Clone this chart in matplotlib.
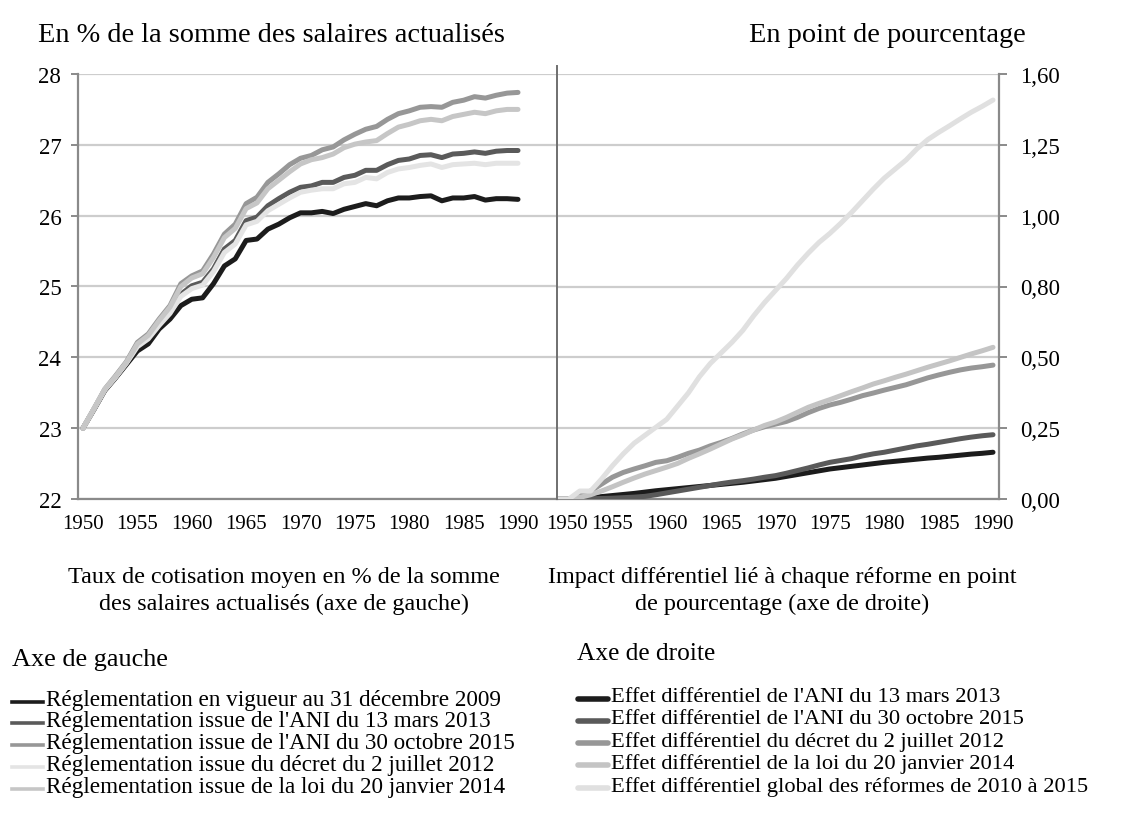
import matplotlib
matplotlib.use("Agg")
import matplotlib.pyplot as plt
from matplotlib.lines import Line2D
import matplotlib.transforms as mtrans
import numpy as np

plt.rcParams['font.family'] = ['Liberation Serif', 'DejaVu Serif']

years = list(range(1950, 1991))

# Left axis: average contribution rate (% of discounted wages)
regl_2009 = [23.00, 23.26, 23.53, 23.71, 23.90, 24.09, 24.19, 24.40, 24.54, 24.73,
             24.82, 24.84, 25.04, 25.29, 25.39, 25.65, 25.67, 25.81, 25.88, 25.97,
             26.04, 26.04, 26.06, 26.03, 26.09, 26.13, 26.17, 26.14, 26.21, 26.25,
             26.25, 26.27, 26.28, 26.21, 26.25, 26.25, 26.27, 26.22, 26.24, 26.24, 26.23]
regl_ani2013 = [23.00, 23.27, 23.54, 23.72, 23.92, 24.17, 24.28, 24.47, 24.64, 24.89,
                25.01, 25.06, 25.25, 25.53, 25.65, 25.93, 25.98, 26.14, 26.24, 26.33,
                26.40, 26.42, 26.47, 26.47, 26.54, 26.57, 26.64, 26.64, 26.72, 26.78,
                26.80, 26.85, 26.86, 26.82, 26.87, 26.88, 26.90, 26.88, 26.91, 26.92, 26.92]
regl_ani2015 = [23.00, 23.27, 23.55, 23.74, 23.94, 24.21, 24.33, 24.54, 24.73, 25.04,
                25.15, 25.22, 25.46, 25.74, 25.88, 26.17, 26.26, 26.47, 26.59, 26.72,
                26.81, 26.85, 26.93, 26.97, 27.07, 27.15, 27.22, 27.26, 27.36, 27.44,
                27.48, 27.53, 27.54, 27.53, 27.60, 27.63, 27.68, 27.66, 27.70, 27.73, 27.74]
regl_decret2012 = [23.00, 23.27, 23.54, 23.72, 23.92, 24.15, 24.26, 24.45, 24.62, 24.86,
                   24.97, 25.02, 25.21, 25.48, 25.60, 25.87, 25.92, 26.07, 26.16, 26.25,
                   26.33, 26.36, 26.38, 26.38, 26.45, 26.47, 26.54, 26.52, 26.61, 26.66,
                   26.68, 26.71, 26.73, 26.68, 26.72, 26.73, 26.74, 26.72, 26.74, 26.74, 26.74]
regl_loi2014 = [23.00, 23.27, 23.55, 23.73, 23.93, 24.19, 24.31, 24.52, 24.71, 25.00,
                25.12, 25.18, 25.41, 25.69, 25.82, 26.10, 26.18, 26.38, 26.50, 26.62,
                26.73, 26.79, 26.82, 26.87, 26.96, 27.01, 27.04, 27.06, 27.16, 27.25,
                27.29, 27.34, 27.36, 27.34, 27.40, 27.43, 27.46, 27.44, 27.48, 27.50, 27.50]

# Right axis: differential effect (percentage points)
eff_ani2013 = [0, 0, 0.002, 0.005, 0.009, 0.013, 0.017, 0.021, 0.026, 0.031,
               0.035, 0.039, 0.043, 0.047, 0.051, 0.055, 0.059, 0.063, 0.068, 0.073,
               0.078, 0.085, 0.092, 0.099, 0.106, 0.113, 0.118, 0.123, 0.128, 0.133,
               0.138, 0.142, 0.146, 0.150, 0.154, 0.157, 0.161, 0.165, 0.169, 0.172, 0.176]
eff_ani2015 = [0, 0, 0, 0.001, 0.002, 0.003, 0.005, 0.007, 0.010, 0.016,
               0.023, 0.030, 0.037, 0.044, 0.051, 0.058, 0.064, 0.069, 0.075, 0.082,
               0.088, 0.097, 0.107, 0.117, 0.128, 0.138, 0.145, 0.152, 0.162, 0.170,
               0.176, 0.184, 0.192, 0.200, 0.206, 0.213, 0.220, 0.227, 0.233, 0.238, 0.242]
eff_decret2012 = [0, 0, 0.013, 0.030, 0.056, 0.082, 0.100, 0.113, 0.125, 0.138,
                  0.144, 0.157, 0.172, 0.184, 0.200, 0.213, 0.228, 0.245, 0.260, 0.272,
                  0.282, 0.292, 0.307, 0.325, 0.341, 0.354, 0.364, 0.376, 0.389, 0.399,
                  0.410, 0.420, 0.430, 0.443, 0.456, 0.467, 0.477, 0.486, 0.493, 0.498, 0.504]
eff_loi2014 = [0, 0, 0.006, 0.016, 0.030, 0.046, 0.063, 0.079, 0.094, 0.107,
               0.120, 0.134, 0.153, 0.170, 0.188, 0.207, 0.226, 0.242, 0.260, 0.277,
               0.290, 0.307, 0.326, 0.345, 0.360, 0.374, 0.389, 0.404, 0.418, 0.433,
               0.445, 0.458, 0.470, 0.483, 0.496, 0.508, 0.520, 0.533, 0.546, 0.558, 0.571]
eff_global = [0, 0, 0.030, 0.030, 0.075, 0.125, 0.170, 0.210, 0.240, 0.270,
              0.300, 0.350, 0.400, 0.460, 0.510, 0.550, 0.590, 0.635, 0.690, 0.740,
              0.785, 0.830, 0.880, 0.925, 0.966, 1.000, 1.038, 1.079, 1.123, 1.167,
              1.208, 1.242, 1.276, 1.318, 1.353, 1.380, 1.405, 1.431, 1.456, 1.478, 1.502]

left_ticks = [22, 23, 24, 25, 26, 27, 28]
left_ticklabels = ['22', '23', '24', '25', '26', '27', '28']
right_ticklabels = ['0,00', '0,25', '0,50', '0,80', '1,00', '1,25', '1,60']
x_ticks = [1950, 1955, 1960, 1965, 1970, 1975, 1980, 1985, 1990]

left_labels = ["Réglementation en vigueur au 31 décembre 2009",
               "Réglementation issue de l'ANI du 13 mars 2013",
               "Réglementation issue de l'ANI du 30 octobre 2015",
               "Réglementation issue du décret du 2 juillet 2012",
               "Réglementation issue de la loi du 20 janvier 2014"]
right_labels = ["Effet différentiel de l'ANI du 13 mars 2013",
                "Effet différentiel de l'ANI du 30 octobre 2015",
                "Effet différentiel du décret du 2 juillet 2012",
                "Effet différentiel de la loi du 20 janvier 2014",
                "Effet différentiel global des réformes de 2010 à 2015"]

left_series = [regl_2009, regl_ani2013, regl_ani2015, regl_decret2012, regl_loi2014]
left_colors = ['#1c1c1c', '#5a5a5a', '#979797', '#e4e4e4', '#c6c6c6']
right_series = [eff_ani2013, eff_ani2015, eff_decret2012, eff_loi2014, eff_global]
right_colors = ['#1c1c1c', '#5a5a5a', '#979797', '#c4c4c4', '#e0e0e0']

W, H = 1144, 829
fig = plt.figure(figsize=(W / 100, H / 100), dpi=100)

def fx(px):
    return px / W

def fy(py):
    return 1 - py / H

FS_X = 15       # x tick labels
FS_Y = 16.5     # y tick labels
FS_T = 20.4     # top titles
FS_CAP = 17.4   # captions under the panels
FS_LEG_L = 16.7
FS_LEG_R = 16.2
grid_c = '#cdcdcd'
spine_c = '#8a8a8a'
LW = 3.6

axL = fig.add_axes([fx(78), fy(500), fx(557 - 78), (500 - 75) / H])
axR = fig.add_axes([fx(557), fy(500), fx(999 - 557), (500 - 75) / H])

# Left panel
for s, c in zip(left_series, left_colors):
    axL.plot(years, s, color=c, lw=LW, solid_capstyle='round', solid_joinstyle='round', zorder=3)
axL.set_xlim(1950 - 5 / 10.875, 1950 + (557 - 83) / 10.875)
axL.set_ylim(22, 28)
axL.set_yticks(left_ticks)
axL.set_yticklabels(left_ticklabels, fontsize=FS_Y)
axL.set_xticks(x_ticks)
axL.set_xticklabels([str(v) for v in x_ticks], fontsize=FS_X)
axL.yaxis.grid(True, color=grid_c, lw=1.6, zorder=0)
axL.set_axisbelow(True)
for side in ['top', 'right']:
    axL.spines[side].set_visible(False)
for side in ['left', 'bottom']:
    axL.spines[side].set_color(spine_c)
    axL.spines[side].set_linewidth(1.6)
axL.tick_params(axis='y', length=5, width=1.4, color=spine_c, pad=7)
axL.tick_params(axis='x', length=0, pad=11)

# Right panel
for s, c in zip(right_series, right_colors):
    axR.plot(years, s, color=c, lw=LW, solid_capstyle='round', solid_joinstyle='round', zorder=3)
axR.set_xlim(1950 - 1 / 10.875, 1950 + (999 - 558) / 10.875)
axR.set_ylim(0, 1.6)
axR.set_yticks(np.linspace(0, 1.6, 7))
axR.set_yticklabels(right_ticklabels, fontsize=FS_Y)
axR.yaxis.tick_right()
axR.set_xticks(x_ticks)
axR.set_xticklabels([str(v) for v in x_ticks], fontsize=FS_X)
axR.yaxis.grid(True, color=grid_c, lw=1.6, zorder=0)
axR.set_axisbelow(True)
axR.spines['top'].set_visible(False)
axR.spines['left'].set_visible(False)
for side in ['right', 'bottom']:
    axR.spines[side].set_color(spine_c)
    axR.spines[side].set_linewidth(1.6)
axR.tick_params(axis='y', length=6, width=1.4, color=spine_c, pad=9)
axR.tick_params(axis='x', length=0, pad=11)
first = axR.get_xticklabels()[0]
first.set_transform(first.get_transform() + mtrans.ScaledTranslation(9 / 100, 0, fig.dpi_scale_trans))
# divider line between panels
axR.plot([0, 0], [0, 1.018], transform=axR.transAxes, color='#6f6f6f', lw=1.4, clip_on=False, zorder=4)

# Titles
fig.text(fx(38), fy(35), "En % de la somme des salaires actualisés", fontsize=FS_T, va='center', ha='left')
fig.text(fx(1026), fy(35), "En point de pourcentage", fontsize=FS_T, va='center', ha='right')

# Captions
fig.text(fx(284), fy(578), "Taux de cotisation moyen en % de la somme", fontsize=FS_CAP, ha='center', va='center')
fig.text(fx(284), fy(604), "des salaires actualisés (axe de gauche)", fontsize=FS_CAP, ha='center', va='center')
fig.text(fx(782), fy(578), "Impact différentiel lié à chaque réforme en point", fontsize=FS_CAP, ha='center', va='center')
fig.text(fx(782), fy(604), "de pourcentage (axe de droite)", fontsize=FS_CAP, ha='center', va='center')

# Legends
fig.text(fx(12), fy(660), "Axe de gauche", fontsize=18.9, ha='left', va='center')
fig.text(fx(577), fy(654), "Axe de droite", fontsize=18.3, ha='left', va='center')

left_y = [701, 722, 744, 766, 788]
for lbl, c, yy in zip(left_labels, left_colors, left_y):
    fig.add_artist(Line2D([fx(12), fx(43)], [fy(yy + 2), fy(yy + 2)], color=c, lw=2.6))
    fig.text(fx(46), fy(yy), lbl, fontsize=FS_LEG_L, ha='left', va='center')

right_y = [698, 720, 742, 764, 787]
for lbl, c, yy in zip(right_labels, right_colors, right_y):
    fig.add_artist(Line2D([fx(578), fx(608)], [fy(yy + 2), fy(yy + 2)], color=c, lw=4, solid_capstyle='round'))
    fig.text(fx(611), fy(yy), lbl, fontsize=FS_LEG_R, ha='left', va='center')

fig.savefig("out.png", dpi=100, facecolor='white')
